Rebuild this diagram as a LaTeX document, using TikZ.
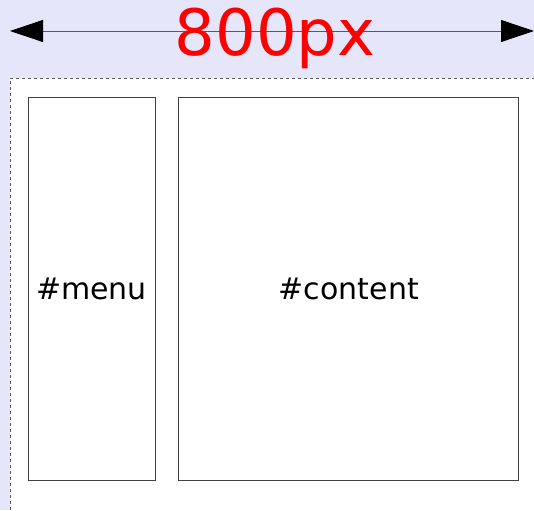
\documentclass[tikz,border=0pt]{standalone}
\usepackage{fontspec}
\setmainfont{DejaVu Sans}
\usepackage{tikz}
\usetikzlibrary{arrows.meta,positioning,calc}
\definecolor{pagebg}{RGB}{230,230,250}
\definecolor{dashgray}{RGB}{90,90,100}

\begin{document}
\begin{tikzpicture}[x=1pt,y=-1pt,
 box/.style={draw=black!75,fill=white,line width=0.8pt,inner sep=0pt,
 minimum height=383pt,font=\fontsize{30}{34}\selectfont},
 bigtip/.tip={Triangle[length=33pt,width=22pt,color=black]}]
\fill[pagebg] (0,0) rectangle (534,510);
\useasboundingbox (0,0) rectangle (534,510);
\fill[white] (10,78) rectangle (534,510);
\draw[dashgray,dashed,line width=0.8pt] (10,510) -- (10,78) -- (534,78);
\node[box,minimum width=127pt] (menu) at (91.5,289) {\#menu};
\node[box,minimum width=340pt,right=23pt of menu] (content) {\#content};
\coordinate (wl) at (10,31);
\coordinate (wr) at (534,31);
\draw[bigtip-bigtip,black!65,line width=0.8pt] (wl) -- (wr);
\node[text=red,font=\fontsize{64}{70}\selectfont] (width) at (275,38) {800px};
\end{tikzpicture}
\end{document}
